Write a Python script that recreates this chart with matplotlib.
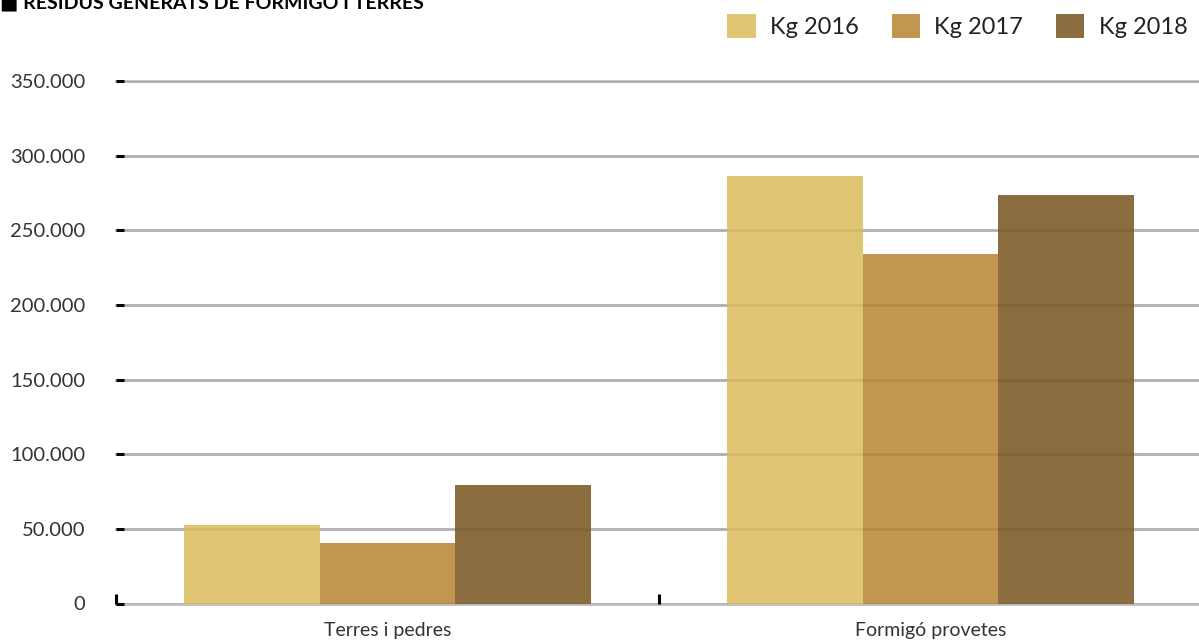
import numpy as np
import matplotlib.pyplot as plt
from matplotlib.patches import Patch

# Residus (kg) per categoria i any
categories = ['Terres i pedres', 'Formigó provetes']
years = ['Kg 2016', 'Kg 2017', 'Kg 2018']
kg_2016 = [52500, 286400]
kg_2017 = [40400, 234300]
kg_2018 = [79200, 273700]
yticks = [0, 50000, 100000, 150000, 200000, 250000, 300000, 350000]
ytick_labels = ['0', '50.000', '100.000', '150.000', '200.000', '250.000', '300.000', '350.000']

colors = ['#E0C673', '#C29550', '#8B6D3F']
series = [kg_2016, kg_2017, kg_2018]

plt.rcParams['font.family'] = ['Lato', 'DejaVu Sans']

fig = plt.figure(figsize=(11.99, 6.43), dpi=100)
ax = fig.add_axes([116 / 1199, 1 - 603.5 / 643, (1202 - 116) / 1199, 522.5 / 643])

x = np.arange(len(categories))
w = 0.25
for i, vals in enumerate(series):
    ax.bar(x + (i - 1) * w, vals, width=w, color=colors[i],
           linewidth=0, zorder=2)

ax.set_xlim(-0.5, 1.5)
ax.set_ylim(0, 350000)
ax.set_yticks(yticks)
ax.set_yticklabels(ytick_labels)
ax.set_xticks([-0.5, 0.5, 1.5])
ax.set_xticklabels([])
ax.set_xticks(x, minor=True)
ax.set_xticklabels(categories, minor=True)

# grid behind the bars, plus a faint copy showing through them
for y in yticks:
    ax.axhline(y, color='#BDBDBD', linewidth=2, zorder=1, clip_on=False)
    ax.axhline(y, color='black', alpha=0.07, linewidth=2, zorder=3)

for s in ax.spines.values():
    s.set_visible(False)

ax.tick_params(axis='y', direction='in', length=6, width=2.2, color='black',
               labelsize=14.5, labelcolor='#333333', pad=22)
ax.tick_params(axis='x', which='major', direction='in', length=7, width=2.2,
               color='black')
ax.tick_params(axis='x', which='minor', length=0, labelsize=14,
               labelcolor='#333333', pad=13)

handles = [Patch(facecolor=c, edgecolor='none') for c in colors]
fig.legend(handles, years, loc='upper right', bbox_to_anchor=(1.008, 1.012),
           ncol=3, frameon=False, fontsize=17, handlelength=1.2,
           handleheight=1.2, handletextpad=0.6, columnspacing=1.4,
           labelcolor='#222222')

fig.text(0.0, 0.998, '\u25A0 RESIDUS GENERATS DE FORMIGÓ I TERRES',
         fontsize=14, fontweight='bold', va='center', ha='left', color='black')

fig.savefig('out.png', dpi=100)
